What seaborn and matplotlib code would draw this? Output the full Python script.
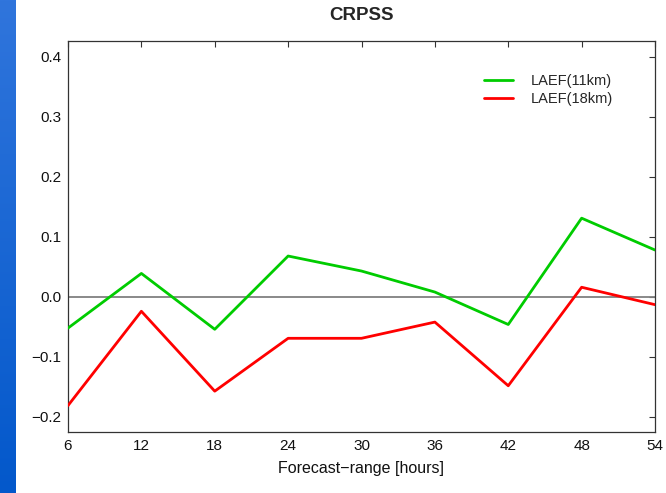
import numpy as np
import pandas as pd
import matplotlib
matplotlib.use("Agg")
import matplotlib.pyplot as plt
from matplotlib.colors import LinearSegmentedColormap
import seaborn as sns

hours = [6, 12, 18, 24, 30, 36, 42, 48, 54]
laef_11km = [-0.052, 0.039, -0.054, 0.068, 0.043, 0.008, -0.046, 0.131, 0.078]
laef_18km = [-0.181, -0.024, -0.157, -0.069, -0.069, -0.042, -0.148, 0.016, -0.013]
series_names = ["LAEF(11km)", "LAEF(18km)"]
x_ticks = [6, 12, 18, 24, 30, 36, 42, 48, 54]
y_ticks = [-0.2, -0.1, 0.0, 0.1, 0.2, 0.3, 0.4]

df = pd.DataFrame({
    "hours": hours * 2,
    "crpss": laef_11km + laef_18km,
    "model": [series_names[0]] * len(hours) + [series_names[1]] * len(hours),
})

sns.set_theme(style="white")
plt.rcParams["font.family"] = ["Liberation Sans", "DejaVu Sans"]

fig = plt.figure(figsize=(6.66, 4.93), dpi=100)

# blue gradient strip on the left
strip = fig.add_axes([0, 0, 16 / 666, 1])
grad = np.linspace(0, 1, 256).reshape(-1, 1)
cmap = LinearSegmentedColormap.from_list("strip", ["#3075dc", "#0358cb"])
strip.imshow(grad, aspect="auto", cmap=cmap, extent=[0, 1, 1, 0])
strip.set_axis_off()

ax = fig.add_axes([68 / 666, 1 - 432 / 493, (655 - 68) / 666, (432 - 41) / 493])
ax.axhline(0, color="#808080", lw=1.3, zorder=1)
sns.lineplot(data=df, x="hours", y="crpss", hue="model",
             palette={series_names[0]: "#00cc00", series_names[1]: "#ff0000"},
             linewidth=2.0, ax=ax, zorder=3)

ax.set_xlim(6, 54)
ax.set_ylim(-0.225, 0.426)
ax.set_xticks(x_ticks)
ax.set_xticklabels([str(t) for t in x_ticks])
ax.set_yticks(y_ticks)
ax.set_yticklabels([f"{t:.1f}".replace("-", "\u2212") for t in y_ticks])
ax.tick_params(direction="in", length=4, width=0.8, color="#333333",
               top=True, right=True, labelsize=11, labelcolor="#111111", pad=5)
for s in ax.spines.values():
    s.set_color("#333333")
    s.set_linewidth(0.9)

ax.set_xlabel("Forecast\u2212range [hours]", fontsize=11.5, color="#111111", labelpad=6)
ax.set_ylabel("")
ax.set_title("CRPSS", fontsize=13.5, fontweight="bold", pad=15)

leg = ax.legend(loc="upper right", bbox_to_anchor=(0.95, 0.95), frameon=False,
                fontsize=10.5, handlelength=2.0, handletextpad=1.2, labelspacing=0.3)
for h in leg.get_lines():
    h.set_linewidth(2.0)

fig.savefig("out.png", dpi=100)
